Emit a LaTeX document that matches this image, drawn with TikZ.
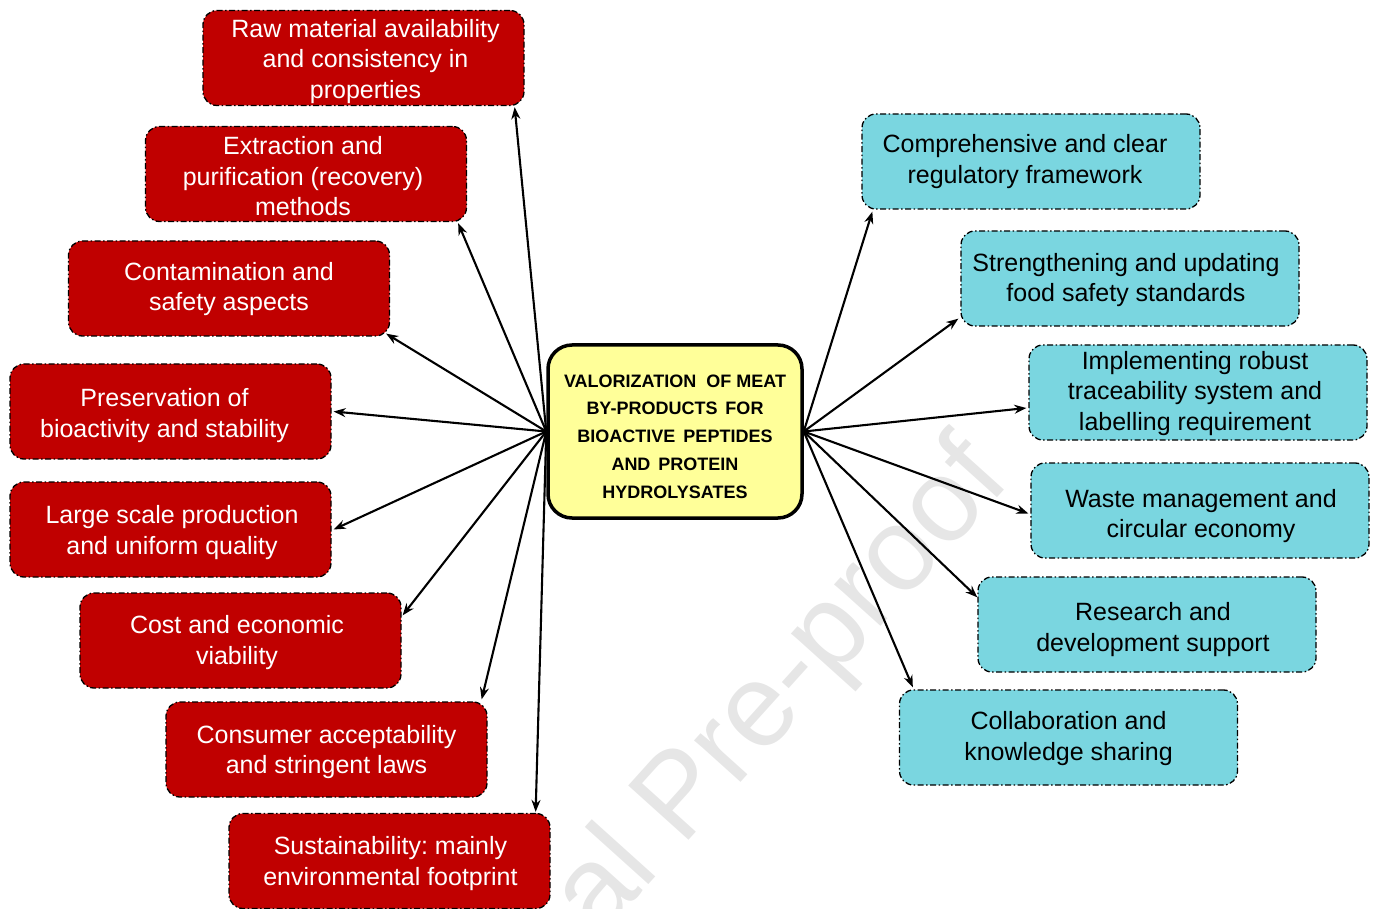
\documentclass[tikz,border=0pt]{standalone}
\usepackage{fontspec}
\setmainfont{Liberation Sans}
\usetikzlibrary{arrows.meta,calc}
\definecolor{boxred}{HTML}{C00000}
\definecolor{boxcyan}{HTML}{7AD6E0}
\definecolor{hubyellow}{HTML}{FFFF99}
\definecolor{wmgray}{HTML}{E6E6E6}
\frenchspacing

% box with its caption: name, centre, caption x/y shift, caption
\newcommand{\issue}[5]{%
  \node[redbox] (#1) at #2 {};
  \node[boxtext, text=white, xshift=#3, yshift=#4] (#1-t) at (#1.center) {#5};}
\newcommand{\measure}[5]{%
  \node[cyanbox] (#1) at #2 {};
  \node[boxtext, text=black, xshift=#3, yshift=#4] (#1-t) at (#1.center) {#5};}

\begin{document}
\begin{tikzpicture}[x=1pt,y=-1pt,
  item/.style={rounded corners=14pt, draw=black, line width=1.3pt,
    dash pattern=on 6pt off 2.5pt on 1.5pt off 2.5pt, inner sep=0pt},
  redbox/.style={item, fill=boxred, minimum width=321pt, minimum height=95pt},
  cyanbox/.style={item, fill=boxcyan, minimum width=338pt, minimum height=95pt},
  boxtext/.style={align=center, inner sep=0pt, font=\fontsize{25}{30.5}\selectfont},
  hub/.style={rounded corners=24pt, draw=black, line width=3.5pt, fill=hubyellow,
    minimum width=254pt, minimum height=173pt, inner sep=0pt},
  hubtext/.style={align=center, inner sep=0pt,
    font=\bfseries\fontsize{18}{27.8}\selectfont},
  link/.style={line width=2.1pt, -{Stealth[length=12pt,width=9pt]}}
]
\useasboundingbox (0,0) rectangle (1374,909);

% watermark
\begin{scope}
  \clip (0,0) rectangle (1374,909);
  \node[rotate=48, anchor=base west, inner sep=0pt, text=wmgray,
        font=\fontsize{118}{118}\selectfont] (wm) at (402,1159) {Journal Pre-proof};
\end{scope}

% central topic
\node[hub] (hub) at (675,431.5) {};
\node[hubtext, yshift=-5pt] (hub-t) at (hub.center) {VALORIZATION\hspace{10pt}OF MEAT\\
  BY-PRODUCTS\hspace{8pt}FOR\\
  BIOACTIVE\hspace{8pt}PEPTIDES\\
  AND\hspace{8pt}PROTEIN\\
  HYDROLYSATES};

% challenges
\issue{r1}{(363.5,58)}{2pt}{-3.5pt}{Raw material availability\\and consistency in\\properties}
\issue{r2}{(306,174)}{-3pt}{-2.5pt}{Extraction and\\purification (recovery)\\methods}
\issue{r3}{(229,288.5)}{0pt}{-0.5pt}{Contamination and\\safety aspects}
\issue{r4}{(170.5,411.5)}{-6pt}{-4pt}{Preservation of\\bioactivity and stability}
\issue{r5}{(170.5,529.5)}{1.5pt}{-3pt}{Large scale production\\and uniform quality}
\issue{r6}{(240.5,640.5)}{-3.5pt}{-2pt}{Cost and economic\\viability}
\issue{r7}{(326.5,749.5)}{0pt}{-2.5pt}{Consumer acceptability\\and stringent laws}
\issue{r8}{(389.5,861)}{1pt}{-2.5pt}{Sustainability: mainly\\environmental footprint}

% measures
\measure{b1}{(1031,161.5)}{-6pt}{0pt}{Comprehensive and clear\\regulatory framework}
\measure{b2}{(1130,278.5)}{-4pt}{-1.5pt}{Strengthening and updating\\food safety standards}
\measure{b3}{(1198,392.5)}{-3pt}{-1pt}{Implementing robust\\traceability system and\\labelling requirement}
\measure{b4}{(1200,510.5)}{1pt}{-5.5pt}{Waste management and\\circular economy}
\measure{b5}{(1147,624.5)}{6pt}{-5pt}{Research and\\development support}
\measure{b6}{(1068.5,737.5)}{0pt}{-1pt}{Collaboration and\\knowledge sharing}

% connectors to the left
\draw[link] (hub.west) -- ($(r1.south east)+(-10,1)$);
\draw[link] (hub.west) -- ($(r2.south east)+(-9,1)$);
\draw[link] (hub.west) -- ($(r3.south east)+(-4,-3)$);
\draw[link] (hub.west) -- ($(r4.east)+(2,0)$);
\draw[link] (hub.west) -- ($(r5.east)+(2,0)$);
\draw[link] (hub.west) -- ($(r6.north east)+(1,23)$);
\draw[link] (hub.west) -- ($(r7.north east)+(-6,-2)$);
\draw[link] (hub.west) -- ($(r8.north east)+(-15,-1)$);

% connectors to the right
\draw[link] (hub.east) -- ($(b1.south west)+(11,2)$);
\draw[link] (hub.east) -- ($(b2.south west)+(-2,-8)$);
\draw[link] (hub.east) -- ($(b3.west)+(-2,15.5)$);
\draw[link] (hub.east) -- ($(b4.west)+(-2,3)$);
\draw[link] (hub.east) -- ($(b5.north west)+(0,21)$);
\draw[link] (hub.east) -- ($(b6.north west)+(14,-2)$);
\end{tikzpicture}
\end{document}
